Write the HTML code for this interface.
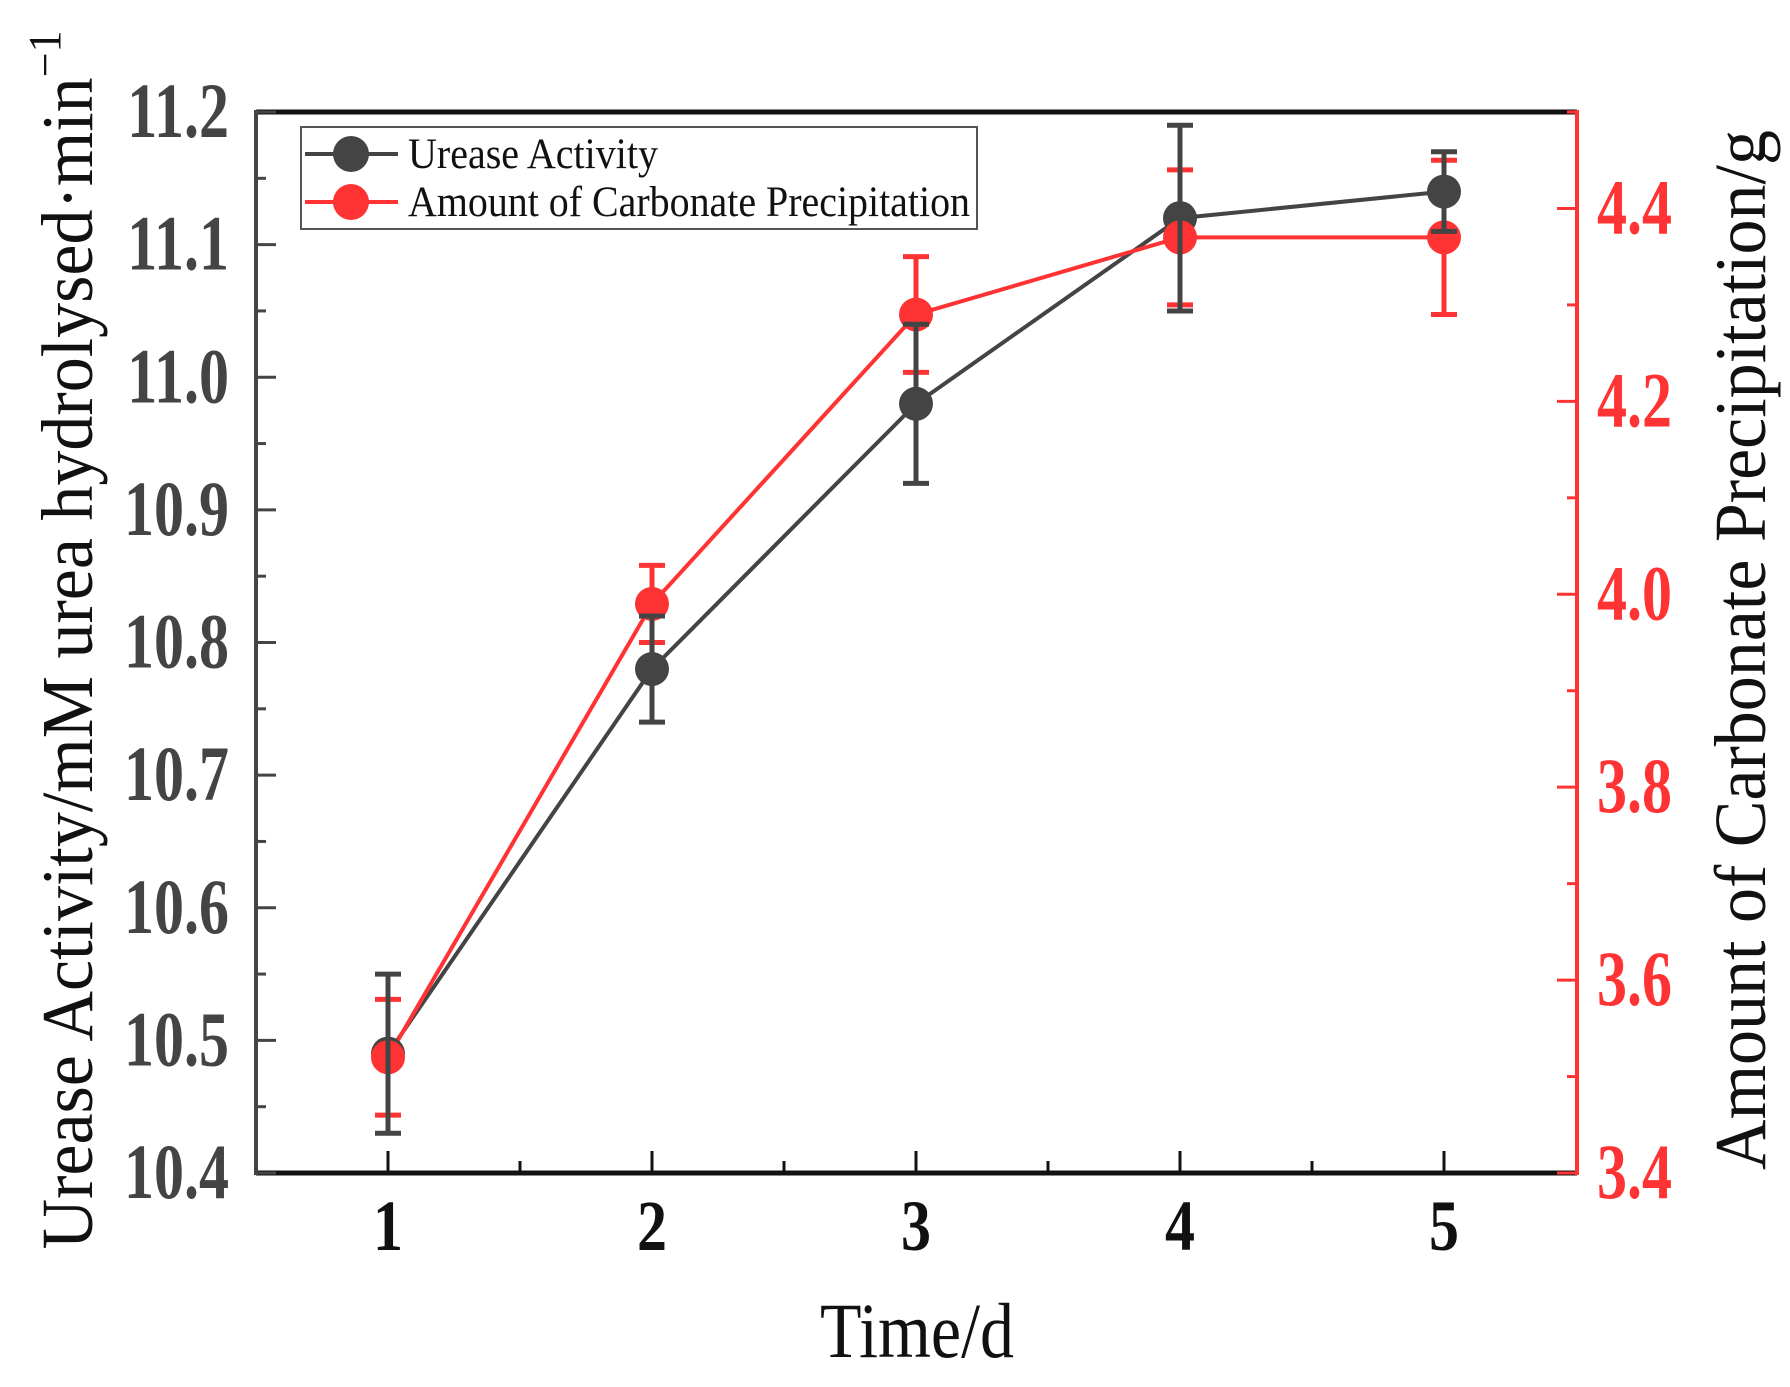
<!DOCTYPE html>
<html><head><meta charset="utf-8"><style>
html,body{margin:0;padding:0;background:#fff;}
svg{display:block;}
text{font-family:"Liberation Serif","DejaVu Serif",serif;}
</style></head><body>
<svg id="chart" width="1790" height="1387" viewBox="0 0 1790 1387">
<g id="axes"></g>
<g id="series"></g>
<g>
<rect x="301" y="127" width="676" height="102" fill="#fff" stroke="#555" stroke-width="2"/>
<g>
<line x1="305" y1="154" x2="398" y2="154" stroke="#444" stroke-width="4"/>
<circle cx="351" cy="154" r="18" fill="#444"/>
<text transform="translate(408,168) scale(1,1.12)" font-size="39" textLength="250" lengthAdjust="spacingAndGlyphs" fill="#111">Urease Activity</text></g>
<g>
<line x1="305" y1="202" x2="398" y2="202" stroke="#f33" stroke-width="4"/>
<circle cx="351" cy="202" r="18" fill="#f33"/>
<text transform="translate(408,216) scale(1,1.12)" font-size="39" textLength="562" lengthAdjust="spacingAndGlyphs" fill="#111">Amount of Carbonate Precipitation</text></g>
</g>
<text transform="translate(917,1357) scale(1,1.15)" font-size="68" text-anchor="middle" fill="#111">Time/d</text>
<text transform="translate(92,640) rotate(-90) scale(1,1.05)" font-size="70" text-anchor="middle" fill="#111">Urease Activity/mM urea hydrolysed·min<tspan font-size="44" dy="-30">−1</tspan></text>
<text transform="translate(1765,650) rotate(-90) scale(1,1.05)" font-size="70" text-anchor="middle" fill="#111">Amount of Carbonate Precipitation/g</text>
</svg>
<script>
const days = [1, 2, 3, 4, 5];
const urease = [10.49, 10.78, 10.98, 11.12, 11.14];
const ureaseErr = [0.06, 0.04, 0.06, 0.07, 0.03];
const carbonate = [3.52, 3.99, 4.29, 4.37, 4.37];
const carbonateErr = [0.06, 0.04, 0.06, 0.07, 0.08];
const leftTicks = ["10.4","10.5","10.6","10.7","10.8","10.9","11.0","11.1","11.2"];
const rightTicks = ["3.4","3.6","3.8","4.0","4.2","4.4"];

const NS = "http://www.w3.org/2000/svg";
const X0 = 256, X1 = 1577, Y0 = 1173, Y1 = 112;
const xs = d => 388 + (d - 1) * 264;
const yL = v => Y0 - (v - 10.4) / 0.8 * (Y0 - Y1);
const yR = v => Y0 - (v - 3.4) / 1.1 * (Y0 - Y1);
function mk(tag, attrs, parent){const e=document.createElementNS(NS,tag);for(const k in attrs)e.setAttribute(k,attrs[k]);parent.appendChild(e);return e;}
const axes = document.getElementById('axes');
const series = document.getElementById('series');

let e;
e = mk('line',{x1:X0,y1:Y1,x2:X1,y2:Y1,stroke:'#111','stroke-width':5},axes);


e = mk('line',{x1:X0,y1:Y0,x2:X1,y2:Y0,stroke:'#111','stroke-width':5},axes);


e = mk('line',{x1:X0,y1:Y1-2,x2:X0,y2:Y0+2,stroke:'#444','stroke-width':4},axes);


e = mk('line',{x1:X1,y1:Y1-2,x2:X1,y2:Y0+2,stroke:'#f33','stroke-width':4},axes);



days.forEach(d=>{
  mk('line',{x1:xs(d),y1:Y0,x2:xs(d),y2:Y0-22,stroke:'#111','stroke-width':3},axes);
  const t = mk('text',{transform:'translate('+xs(d)+',1250) scale(1,1.2)','font-size':60,'font-weight':'bold','text-anchor':'middle',fill:'#111'},axes);
  t.textContent = d;
  
  
  if(d<5) mk('line',{x1:xs(d+0.5),y1:Y0,x2:xs(d+0.5),y2:Y0-12,stroke:'#111','stroke-width':3},axes);
});
leftTicks.forEach((lab,i)=>{
  const v = parseFloat(lab), y = yL(v);
  mk('line',{x1:X0,y1:y,x2:X0+20,y2:y,stroke:'#444','stroke-width':3},axes);
  if(i<leftTicks.length-1) mk('line',{x1:X0,y1:yL(v+0.05),x2:X0+10,y2:yL(v+0.05),stroke:'#444','stroke-width':3},axes);
  const t = mk('text',{transform:'translate(229,'+(y+25)+') scale(1,1.3)','font-size':60,'font-weight':'bold','text-anchor':'end',fill:'#444'},axes);
  t.textContent = lab;
  
  
});
rightTicks.forEach((lab,i)=>{
  const v = parseFloat(lab), y = yR(v);
  mk('line',{x1:X1,y1:y,x2:X1-20,y2:y,stroke:'#f33','stroke-width':3},axes);
  mk('line',{x1:X1,y1:yR(v+0.1),x2:X1-10,y2:yR(v+0.1),stroke:'#f33','stroke-width':3},axes);
  const t = mk('text',{transform:'translate(1597,'+(y+25)+') scale(1,1.3)','font-size':60,'font-weight':'bold','text-anchor':'start',fill:'#f33'},axes);
  t.textContent = lab;
  
  
});

const lg = mk('polyline',{points:days.map((d,i)=>xs(d)+','+yL(urease[i])).join(' '),fill:'none',stroke:'#444','stroke-width':4},series);


const lr = mk('polyline',{points:days.map((d,i)=>xs(d)+','+yR(carbonate[i])).join(' '),fill:'none',stroke:'#f33','stroke-width':4},series);



function errbar(x,ytop,ybot,color,name){
  const g = mk('g',{},series);
  
  
  mk('line',{x1:x,y1:ytop,x2:x,y2:ybot,stroke:color,'stroke-width':5},g);
  mk('line',{x1:x-13,y1:ytop,x2:x+13,y2:ytop,stroke:color,'stroke-width':5},g);
  mk('line',{x1:x-13,y1:ybot,x2:x+13,y2:ybot,stroke:color,'stroke-width':5},g);
}
days.forEach((d,i)=>{
  const c = mk('circle',{cx:xs(d),cy:yL(urease[i]),r:17,fill:'#444'},series);
  
  
});
days.forEach((d,i)=>{
  errbar(xs(d),yR(carbonate[i]+carbonateErr[i]),yR(carbonate[i]-carbonateErr[i]),'#f33','carbonate-error-bar');
});
days.forEach((d,i)=>{
  const c = mk('circle',{cx:xs(d),cy:yR(carbonate[i]),r:17,fill:'#f33'},series);
  
  
});
days.forEach((d,i)=>{
  errbar(xs(d),yL(urease[i]+ureaseErr[i]),yL(urease[i]-ureaseErr[i]),'#444','urease-error-bar');
});
</script>
</body></html>
